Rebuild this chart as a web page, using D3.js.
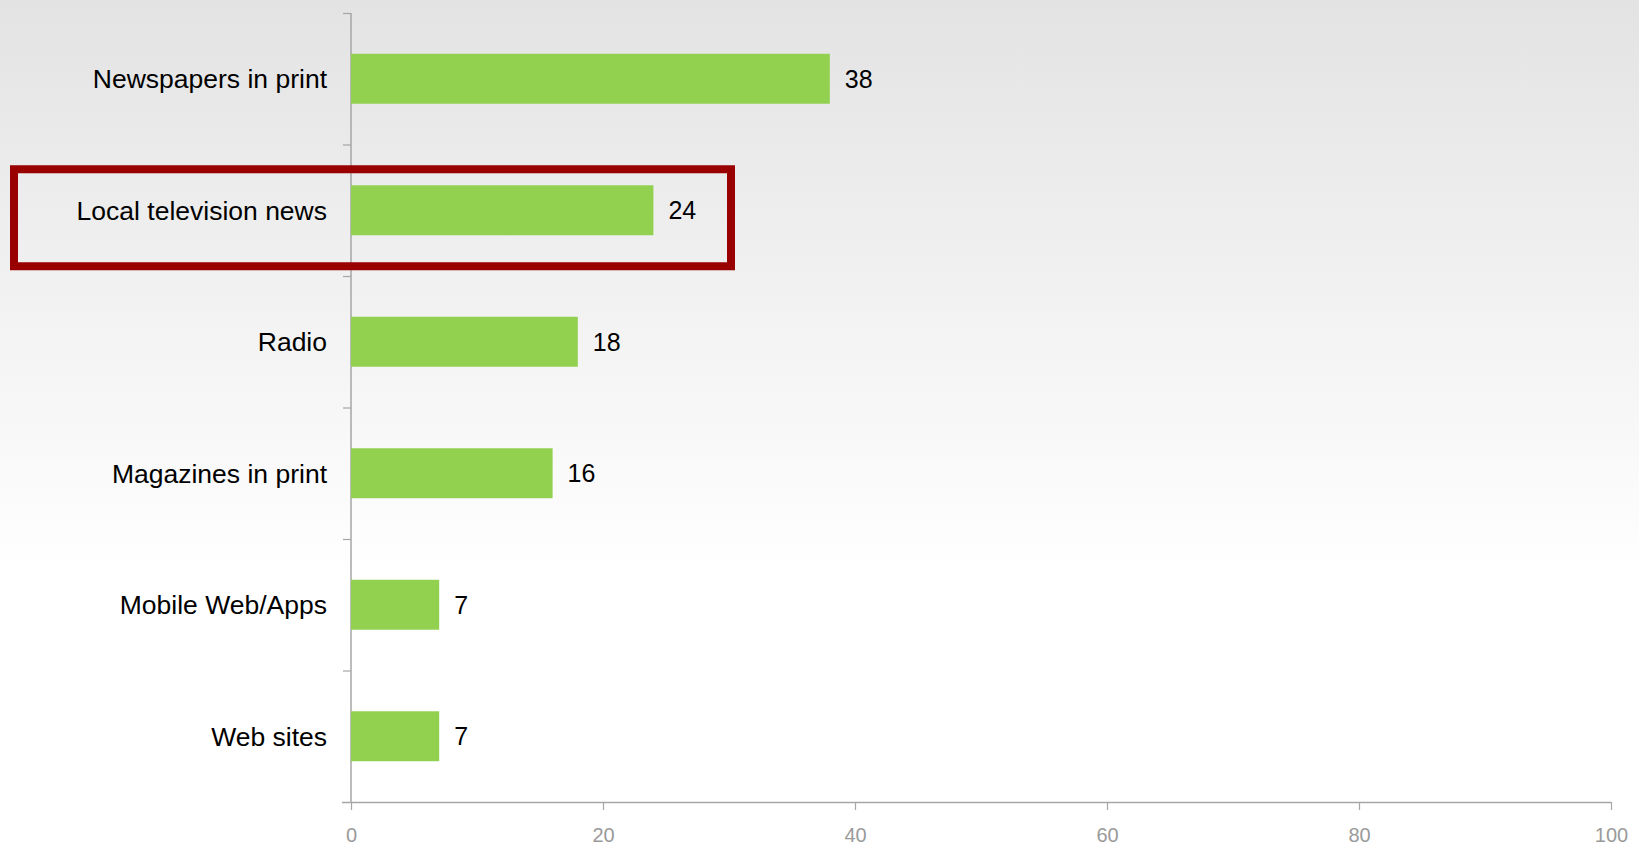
<!DOCTYPE html>
<html>
<head>
<meta charset="utf-8">
<script src="https://cdn.jsdelivr.net/npm/d3@7"></script>
<style>
  html, body { margin: 0; padding: 0; background: #fff; }
  svg { display: block; }
</style>
</head>
<body>
<svg width="1639" height="848"></svg>
<script>
var categories = ["Newspapers in print", "Local television news", "Radio", "Magazines in print", "Mobile Web/Apps", "Web sites"];
var values = [38, 24, 18, 16, 7, 7];
var xTicks = [0, 20, 40, 60, 80, 100];
var highlight = "Local television news";

var svg = d3.select("svg"),
    margin = {top: 13, right: 28, bottom: 46, left: 351},
    width = +svg.attr("width") - margin.left - margin.right,
    height = +svg.attr("height") - margin.top - margin.bottom;

// background gradient
var defs = svg.append("defs");
var grad = defs.append("linearGradient")
    .attr("id", "bg")
    .attr("x1", 0).attr("y1", 0).attr("x2", 0).attr("y2", 1);
grad.append("stop").attr("offset", "0%").attr("stop-color", "#e3e3e3");
grad.append("stop").attr("offset", "68%").attr("stop-color", "#ffffff");
grad.append("stop").attr("offset", "100%").attr("stop-color", "#ffffff");

svg.append("rect")
    .attr("width", 1639).attr("height", 848)
    .attr("fill", "url(#bg)");

var g = svg.append("g")
    .attr("transform", "translate(" + margin.left + "," + margin.top + ")");

var x = d3.scaleLinear()
    .domain([0, 100])
    .range([0, width]);

var y = d3.scaleBand()
    .domain(categories)
    .range([0, height])
    .paddingInner(0.62)
    .paddingOuter(0.31);

var step = y.step();
function bandTop(d) { return y(d) - y.paddingOuter() * step; }

// bottom axis
var xAxis = g.append("g")
    .attr("transform", "translate(0," + height + ")")
    .call(d3.axisBottom(x).tickValues(xTicks).tickSize(8).tickPadding(18).tickSizeOuter(0));
xAxis.select(".domain")
    .attr("stroke", "#a6a6a6")
    .attr("stroke-width", 1.5)
    .attr("d", "M-9,0.5H" + width);
xAxis.selectAll(".tick line").attr("stroke", "#a6a6a6").attr("stroke-width", 1.2);
xAxis.selectAll(".tick text")
    .attr("fill", "#9a9a9a")
    .attr("font-family", "Liberation Sans, Arial, sans-serif")
    .attr("font-size", "20px");

// left axis line with boundary ticks
g.append("line")
    .attr("x1", 0).attr("x2", 0)
    .attr("y1", 0).attr("y2", height)
    .attr("stroke", "#a6a6a6")
    .attr("stroke-width", 1.5);

var bounds = categories.map(bandTop);
g.selectAll(".ytick")
    .data(bounds)
    .enter().append("line")
    .attr("class", "ytick")
    .attr("x1", -8).attr("x2", 0)
    .attr("y1", function(d) { return d + 0.5; })
    .attr("y2", function(d) { return d + 0.5; })
    .attr("stroke", "#a6a6a6")
    .attr("stroke-width", 1.2);

// bars
g.selectAll(".bar")
    .data(categories)
    .enter().append("rect")
    .attr("class", "bar")
    .attr("x", 0)
    .attr("y", function(d) { return y(d); })
    .attr("width", function(d, i) { return x(values[i]); })
    .attr("height", y.bandwidth())
    .attr("fill", "#92d050");

// category labels
g.selectAll(".cat")
    .data(categories)
    .enter().append("text")
    .attr("class", "cat")
    .attr("x", -24)
    .attr("y", function(d) { return y(d) + y.bandwidth() / 2; })
    .attr("dy", "0.35em")
    .attr("text-anchor", "end")
    .attr("font-family", "Liberation Sans, Arial, sans-serif")
    .attr("font-size", "26.5px")
    .attr("fill", "#000")
    .text(function(d) { return d; });

// value labels
g.selectAll(".val")
    .data(categories)
    .enter().append("text")
    .attr("class", "val")
    .attr("x", function(d, i) { return x(values[i]) + 15; })
    .attr("y", function(d) { return y(d) + y.bandwidth() / 2; })
    .attr("dy", "0.35em")
    .attr("font-family", "Liberation Sans, Arial, sans-serif")
    .attr("font-size", "25px")
    .attr("fill", "#000")
    .text(function(d, i) { return values[i]; });

// highlight box
var hc = y(highlight) + y.bandwidth() / 2;
g.append("rect")
    .attr("x", 14 - margin.left)
    .attr("y", hc - 41)
    .attr("width", x(30) + 2 - (14 - margin.left))
    .attr("height", 97)
    .attr("fill", "none")
    .attr("stroke", "#990000")
    .attr("stroke-width", 8);
</script>
</body>
</html>
